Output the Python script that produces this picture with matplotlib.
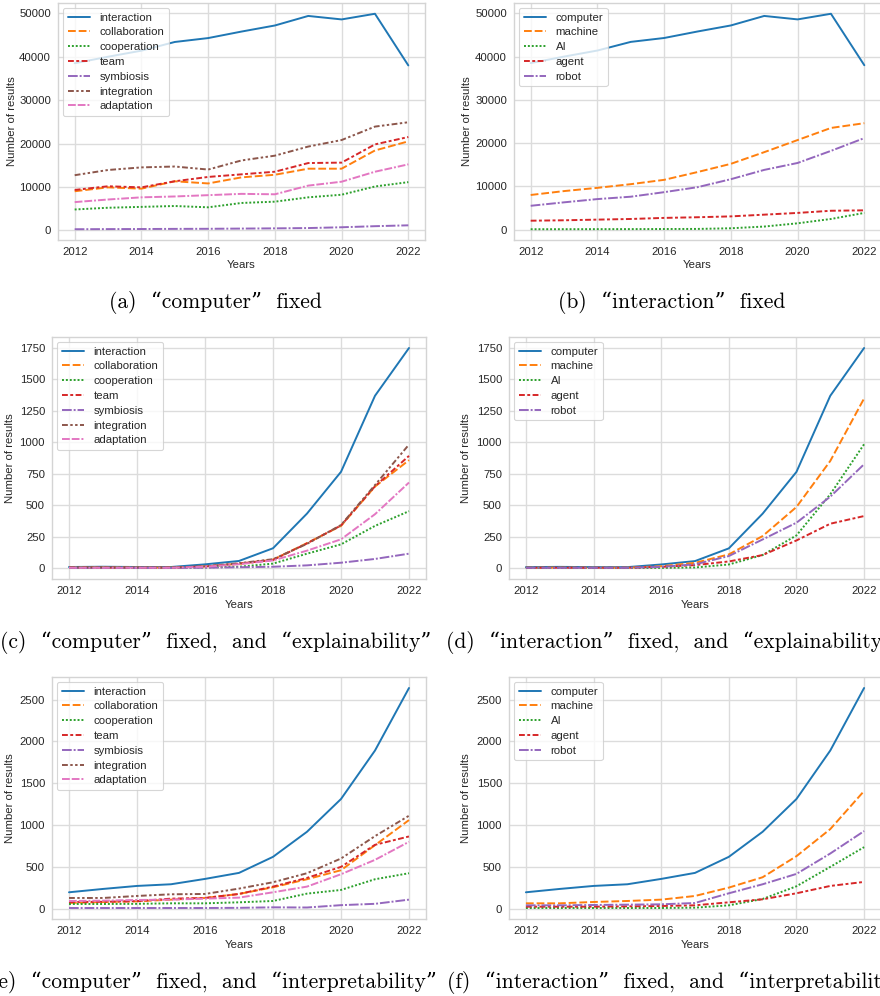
import matplotlib
matplotlib.use("Agg")
import matplotlib.pyplot as plt
from matplotlib.ticker import MultipleLocator

years = list(range(2012, 2023))

# Search terms combined with "computer" (left column) and "interaction" (right column)
left_terms = ["interaction", "collaboration", "cooperation", "team",
              "symbiosis", "integration", "adaptation"]
right_terms = ["computer", "machine", "AI", "agent", "robot"]

# (a) "computer" fixed
a_interaction = [38500, 40000, 41400, 43400, 44300, 45800, 47200, 49400, 48600, 49900, 38000]
a_collaboration = [9000, 9900, 9600, 11300, 10800, 12200, 12800, 14200, 14200, 18400, 20500]
a_cooperation = [4800, 5200, 5400, 5600, 5300, 6300, 6600, 7600, 8200, 10100, 11100]
a_team = [9300, 10150, 9900, 11300, 12300, 12900, 13500, 15500, 15600, 19800, 21500]
a_symbiosis = [250, 280, 300, 330, 350, 400, 450, 520, 700, 950, 1150]
a_integration = [12700, 13900, 14500, 14700, 14000, 16100, 17200, 19300, 20800, 23900, 24900]
a_adaptation = [6500, 7100, 7600, 7800, 8100, 8400, 8300, 10300, 11200, 13500, 15200]

# (b) "interaction" fixed
b_computer = a_interaction
b_machine = [8000, 8900, 9650, 10500, 11500, 13300, 15200, 17900, 20700, 23500, 24600]
b_ai = [80, 90, 100, 110, 130, 150, 300, 700, 1450, 2450, 3850]
b_agent = [2050, 2150, 2300, 2450, 2700, 2850, 3050, 3450, 3850, 4350, 4450]
b_robot = [5500, 6300, 7050, 7600, 8650, 9800, 11650, 13800, 15400, 18200, 21150]

# (c) "computer" fixed, and "explainability"
c_interaction = [8, 10, 8, 8, 29, 56, 157, 433, 765, 1370, 1750]
c_collaboration = [3, 4, 3, 3, 12, 33, 66, 198, 335, 648, 858]
c_cooperation = [1, 2, 1, 1, 5, 10, 35, 114, 188, 335, 452]
c_team = [3, 3, 2, 3, 12, 35, 64, 196, 338, 650, 892]
c_symbiosis = [0, 0, 0, 0, 2, 6, 10, 21, 42, 72, 114]
c_integration = [4, 4, 3, 3, 14, 38, 70, 192, 342, 660, 982]
c_adaptation = [2, 2, 2, 2, 10, 30, 60, 138, 228, 428, 680]

# (d) "interaction" fixed, and "explainability"
d_computer = c_interaction
d_machine = [3, 4, 3, 3, 15, 42, 109, 255, 486, 852, 1349]
d_ai = [1, 1, 1, 1, 2, 5, 29, 104, 260, 587, 985]
d_agent = [3, 3, 3, 3, 10, 24, 53, 104, 220, 353, 414]
d_robot = [2, 2, 2, 2, 10, 30, 96, 228, 361, 568, 826]

# (e) "computer" fixed, and "interpretability"
e_interaction = [196, 236, 272, 292, 356, 428, 620, 920, 1312, 1892, 2640]
e_collaboration = [68, 80, 88, 108, 128, 176, 256, 352, 460, 760, 1060]
e_cooperation = [56, 56, 58, 64, 64, 76, 92, 180, 224, 352, 424]
e_team = [80, 82, 90, 120, 128, 176, 264, 368, 500, 764, 864]
e_symbiosis = [8, 8, 8, 8, 8, 10, 16, 14, 42, 58, 108]
e_integration = [128, 128, 152, 172, 176, 240, 316, 424, 600, 868, 1112]
e_adaptation = [92, 96, 104, 108, 120, 132, 196, 264, 412, 584, 800]

# (f) "interaction" fixed, and "interpretability"
f_computer = e_interaction
f_machine = [64, 64, 80, 92, 108, 152, 252, 376, 628, 952, 1408]
f_ai = [8, 8, 8, 8, 8, 12, 40, 116, 268, 500, 736]
f_agent = [24, 24, 24, 28, 32, 40, 76, 112, 184, 272, 320]
f_robot = [40, 40, 44, 48, 52, 68, 184, 292, 416, 660, 928]

captions = [
    "(a)  \u201ccomputer\u201d  fixed",
    "(b)  \u201cinteraction\u201d  fixed",
    "(c)  \u201ccomputer\u201d  fixed,  and  \u201cexplainability\u201d",
    "(d)  \u201cinteraction\u201d  fixed,  and  \u201cexplainability\u201d",
    "(e)  \u201ccomputer\u201d  fixed,  and  \u201cinterpretability\u201d",
    "(f)  \u201cinteraction\u201d  fixed,  and  \u201cinterpretability\u201d",
]

# ---- styling -------------------------------------------------------------
colors = ["#1f77b4", "#ff7f0e", "#2ca02c", "#d62728", "#9467bd", "#8c564b", "#e377c2"]
dashes = [(), (4, 1.5), (1, 1), (3, 1.25, 1.5, 1.25), (5, 1, 1, 1),
          (3, 1.25, 1.25, 1.25, 1.25, 1.25), (4, 1, 4, 1, 1, 1)]

FS = 8.2
plt.rcParams.update({
    "font.family": ["Liberation Sans", "DejaVu Sans"],
    "font.size": FS,
    "axes.edgecolor": "#d4d4d4",
    "axes.linewidth": 1.0,
    "axes.grid": True,
    "grid.color": "#dcdcdc",
    "grid.linewidth": 1.0,
    "xtick.major.size": 0,
    "ytick.major.size": 0,
    "xtick.major.pad": 5,
    "ytick.major.pad": 5,
    "xtick.color": "#262626",
    "ytick.color": "#262626",
    "axes.labelcolor": "#262626",
    "text.color": "#262626",
})

W, H = 880, 996
fig = plt.figure(figsize=(W / 100, H / 100), dpi=100)


def rect(left, right, top, bottom):
    return [left / W, 1 - bottom / H, (right - left) / W, (bottom - top) / H]


# (axes rect, terms, series, y step, caption centre x, caption centre y, ylabel x)
panels = [
    (rect(58, 425, 3, 240), left_terms,
     [a_interaction, a_collaboration, a_cooperation, a_team, a_symbiosis, a_integration, a_adaptation],
     10000, 215, 303, -0.112),
    (rect(514, 881, 3, 240), right_terms,
     [b_computer, b_machine, b_ai, b_agent, b_robot],
     10000, 672, 303, -0.114),
    (rect(52, 426, 337, 579), left_terms,
     [c_interaction, c_collaboration, c_cooperation, c_team, c_symbiosis, c_integration, c_adaptation],
     250, 216, 642, -0.098),
    (rect(509, 881, 337, 579), right_terms,
     [d_computer, d_machine, d_ai, d_agent, d_robot],
     250, 669, 642, -0.103),
    (rect(52, 426, 677, 919), left_terms,
     [e_interaction, e_collaboration, e_cooperation, e_team, e_symbiosis, e_integration, e_adaptation],
     500, 213, 982, -0.098),
    (rect(509, 881, 677, 919), right_terms,
     [f_computer, f_machine, f_ai, f_agent, f_robot],
     500, 676, 982, -0.103),
]

for i, (r, terms, series, step, cap_x, cap_y, ylab_x) in enumerate(panels):
    ax = fig.add_axes(r)
    ax.set_axisbelow(True)
    for j, (term, vals) in enumerate(zip(terms, series)):
        line, = ax.plot(years, vals, color=colors[j], lw=1.4, label=term,
                        solid_capstyle="round")
        if dashes[j]:
            line.set_dashes(dashes[j])
    ax.yaxis.set_major_locator(MultipleLocator(step))
    ax.xaxis.set_major_locator(MultipleLocator(2))
    ax.set_xlabel("Years", fontsize=FS)
    ax.set_ylabel("Number of results", fontsize=FS)
    ax.xaxis.set_label_coords(0.5, -0.085)
    ax.yaxis.set_label_coords(ylab_x, 0.5)
    leg = ax.legend(loc="upper left", fontsize=FS, frameon=True, fancybox=True,
                    framealpha=0.8, edgecolor="#cccccc", borderaxespad=0.45,
                    handlelength=2.0, labelspacing=0.42)
    leg.get_frame().set_linewidth(0.8)
    fig.text(cap_x / W, 1 - cap_y / H, captions[i], ha="center", va="center",
             fontsize=15.5, family=["cmr10", "DejaVu Serif"], color="black")

fig.savefig("out.png", dpi=100)
